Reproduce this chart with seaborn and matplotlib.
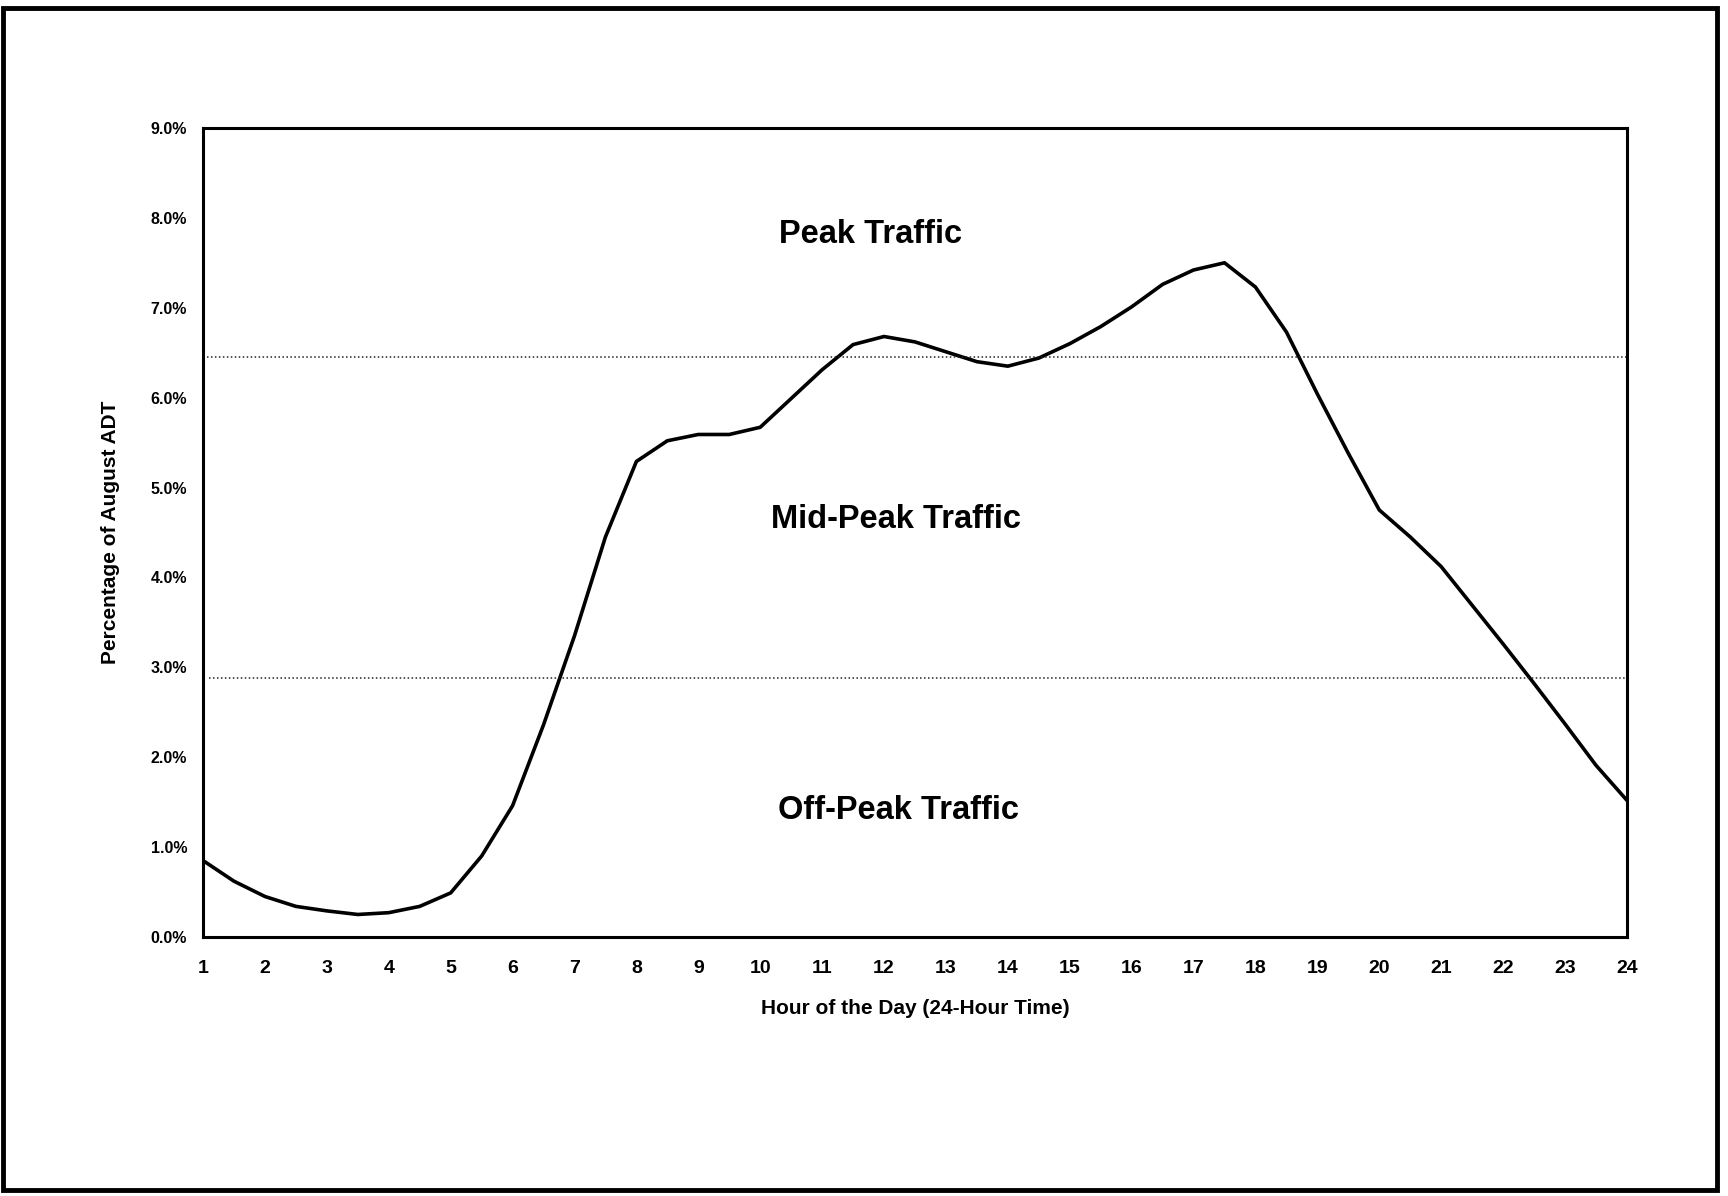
import matplotlib
matplotlib.use("Agg")
import matplotlib.pyplot as plt
from matplotlib.patches import Rectangle
from matplotlib.ticker import PercentFormatter
import seaborn as sns
import pandas as pd

# Hourly traffic profile, read every half hour (percent of August ADT)
hours = [1.0, 1.5, 2.0, 2.5, 3.0, 3.5, 4.0, 4.5, 5.0, 5.5, 6.0, 6.5,
         7.0, 7.5, 8.0, 8.5, 9.0, 9.5, 10.0, 10.5, 11.0, 11.5, 12.0, 12.5,
         13.0, 13.5, 14.0, 14.5, 15.0, 15.5, 16.0, 16.5, 17.0, 17.5, 18.0, 18.5,
         19.0, 19.5, 20.0, 20.5, 21.0, 21.5, 22.0, 22.5, 23.0, 23.5, 24.0]
pct_adt = [0.85, 0.62, 0.45, 0.34, 0.29, 0.25, 0.27, 0.34, 0.49, 0.90, 1.46, 2.36,
           3.35, 4.45, 5.29, 5.52, 5.59, 5.59, 5.67, 5.99, 6.31, 6.59, 6.68, 6.62,
           6.51, 6.40, 6.35, 6.44, 6.60, 6.79, 7.01, 7.26, 7.42, 7.50, 7.23, 6.73,
           6.04, 5.38, 4.75, 4.45, 4.12, 3.69, 3.26, 2.82, 2.37, 1.91, 1.52]

# Thresholds separating the traffic bands
peak_threshold = 6.45
offpeak_threshold = 2.88

band_labels = ["Peak Traffic", "Mid-Peak Traffic", "Off-Peak Traffic"]
band_label_x = [11.78, 12.2, 12.23]
band_label_y = [7.81, 4.64, 1.41]

x_ticks = list(range(1, 25))
y_ticks = [0, 1, 2, 3, 4, 5, 6, 7, 8, 9]

sns.set_style("white")
plt.rcParams["font.family"] = ["Liberation Sans", "DejaVu Sans"]
plt.rcParams["font.weight"] = "bold"
plt.rcParams["text.color"] = "black"
plt.rcParams["axes.labelcolor"] = "black"
plt.rcParams["xtick.color"] = "black"
plt.rcParams["ytick.color"] = "black"

df = pd.DataFrame({"hour": hours, "pct": pct_adt})

fig = plt.figure(figsize=(17.28, 11.96), dpi=100)
ax = fig.add_axes([0.1175, 0.2166, 0.8240, 0.6764])

sns.lineplot(data=df, x="hour", y="pct", ax=ax, color="black", linewidth=2.6)
for line in ax.get_lines():
    line.set_solid_joinstyle("round")
    line.set_solid_capstyle("round")

ax.axhline(peak_threshold, color="#222222", linewidth=1.1, linestyle=(0, (1, 1.6)))
ax.hlines(offpeak_threshold, 1.1, 24, color="#222222", linewidth=1.1,
          linestyle=(0, (1, 1.6)))

for label, lx, ly in zip(band_labels, band_label_x, band_label_y):
    ax.text(lx, ly, label, ha="center", va="center", fontsize=23.5,
            fontweight="bold", color="black")

ax.set_xlim(1, 24)
ax.set_ylim(0, 9)
ax.set_xticks(x_ticks)
ax.set_yticks(y_ticks)
ax.yaxis.set_major_formatter(PercentFormatter(xmax=100, decimals=1))
ax.tick_params(axis="both", direction="inout", length=9, width=1.5, color="black",
               labelcolor="black")
ax.tick_params(axis="x", labelsize=14, pad=12)
ax.tick_params(axis="y", labelsize=11.5, pad=7)
for lab in ax.get_xticklabels() + ax.get_yticklabels():
    lab.set_fontweight("bold")

ax.set_xlabel("Hour of the Day (24-Hour Time)", fontsize=15, fontweight="bold",
              labelpad=16)
ax.set_ylabel("Percentage of August ADT", fontsize=15, fontweight="bold",
              labelpad=22)

for side in ["left", "bottom", "right", "top"]:
    ax.spines[side].set_visible(True)
    ax.spines[side].set_color("black")
    ax.spines[side].set_linewidth(2.2)

# Outer frame around the whole figure
fig.patches.append(Rectangle((0.002, 0.005), 0.9916, 0.988, transform=fig.transFigure,
                             fill=False, edgecolor="black", linewidth=3.5))

fig.savefig("out.png", dpi=100, facecolor="white")
